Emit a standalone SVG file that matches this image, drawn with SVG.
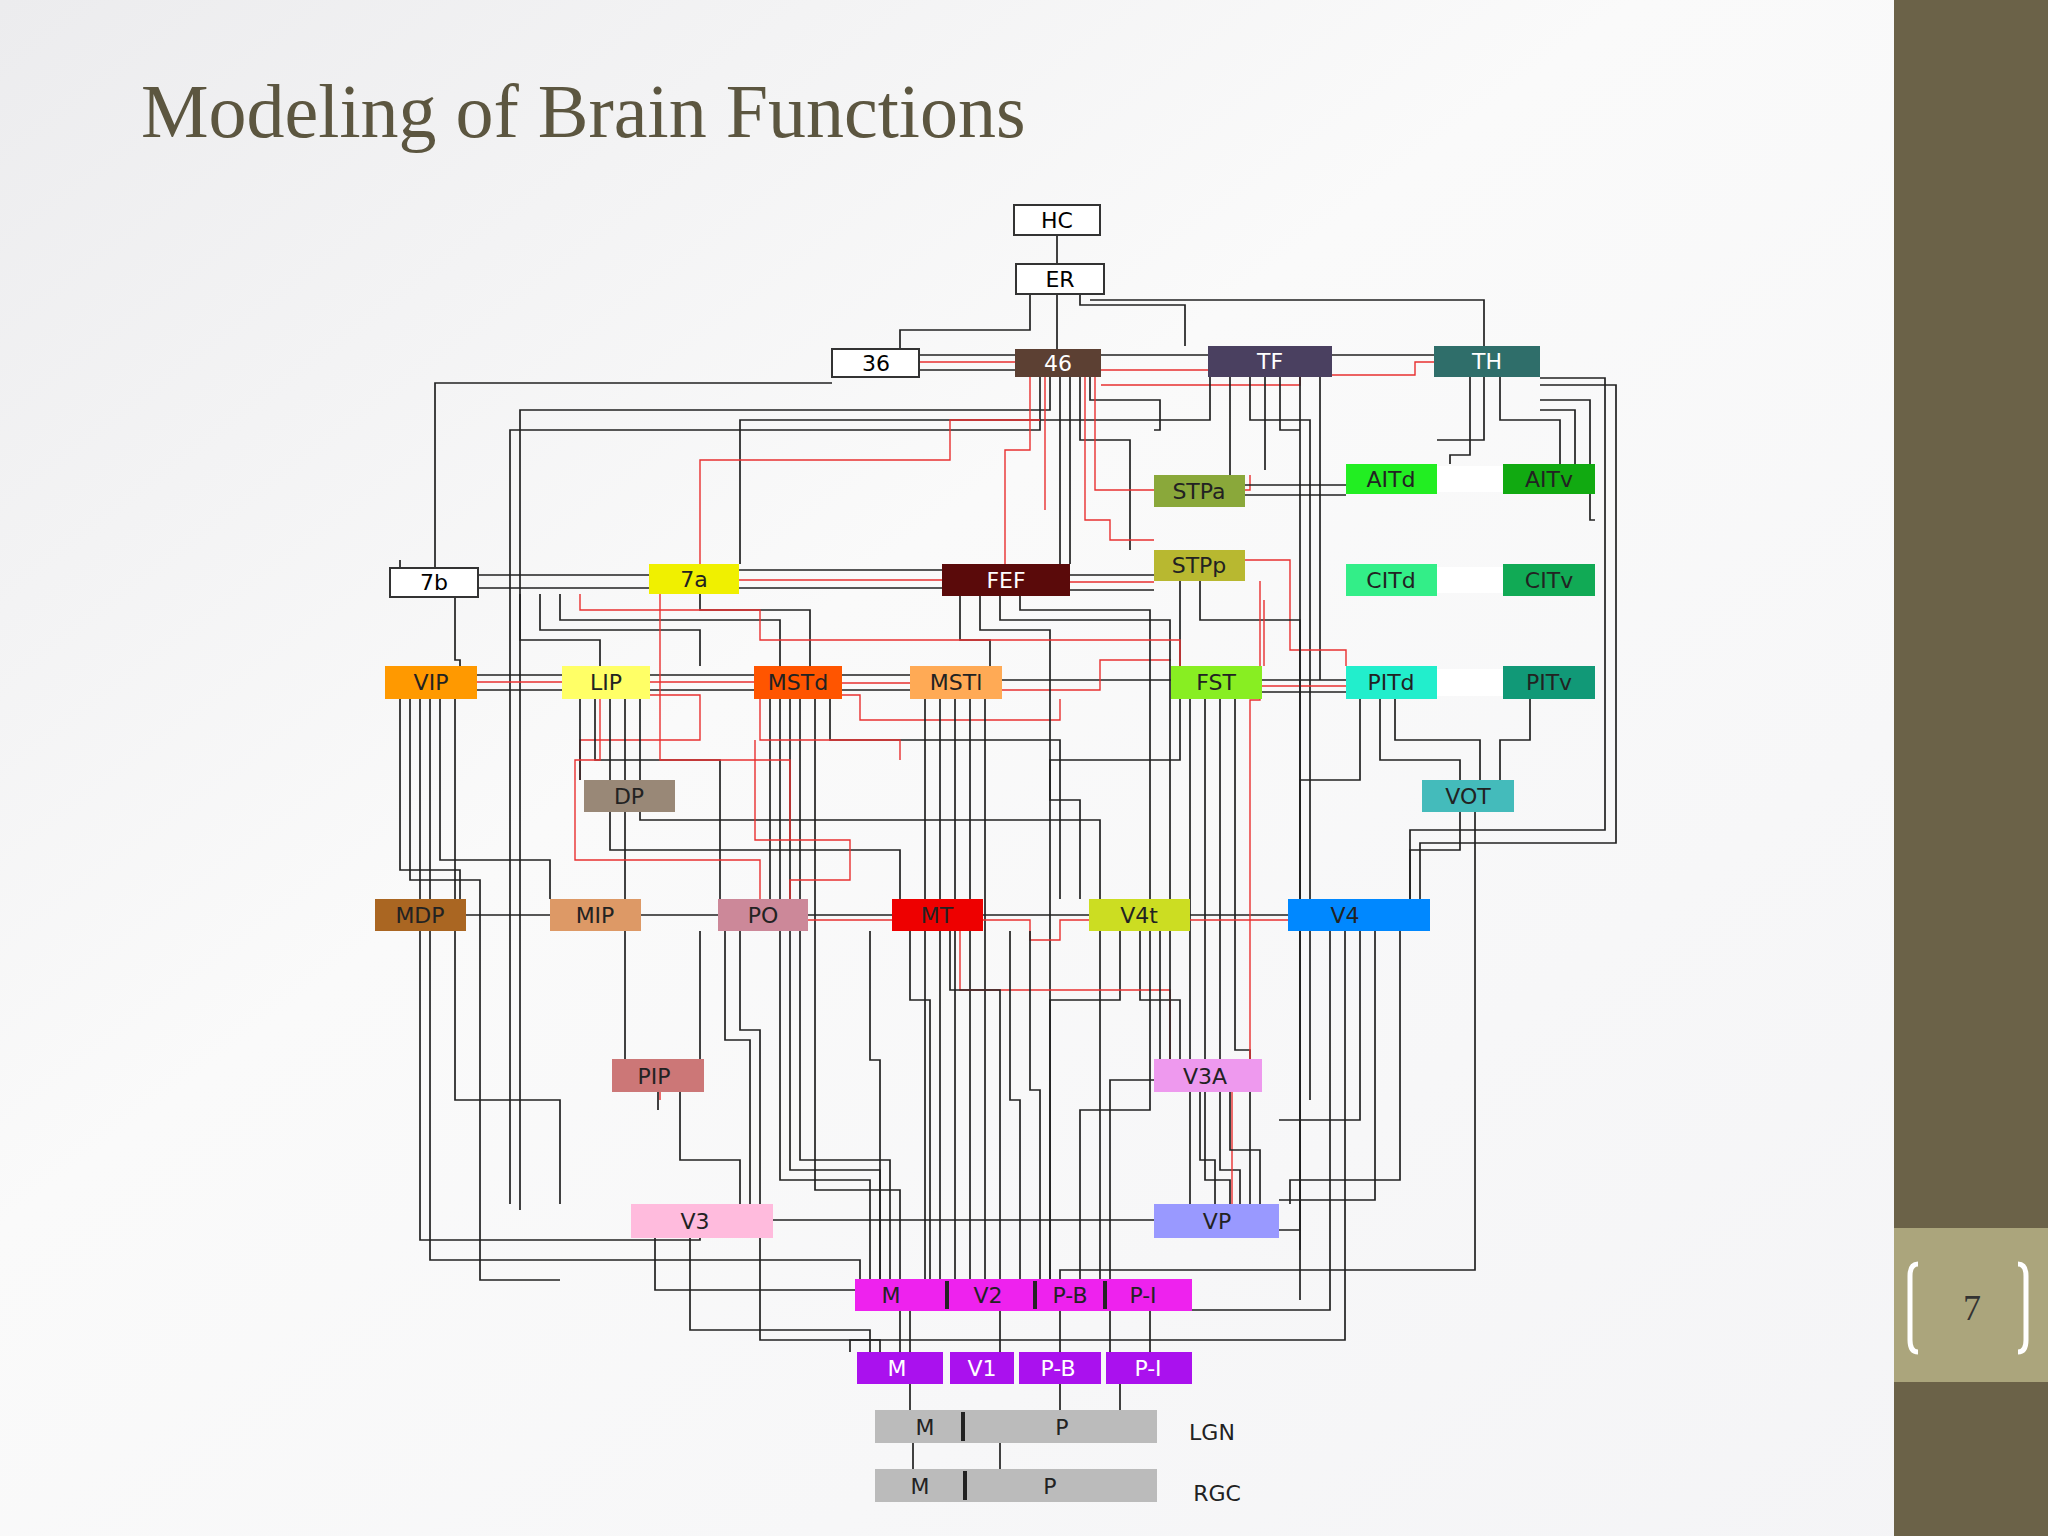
<svg xmlns="http://www.w3.org/2000/svg" width="2048" height="1536" viewBox="0 0 2048 1536">
<defs>
<linearGradient id="bg" x1="0" y1="0" x2="1" y2="1"><stop offset="0" stop-color="#ececee"/><stop offset="0.4" stop-color="#fafafa"/><stop offset="1" stop-color="#f4f4f6"/></linearGradient>
</defs>
<style>
.k{fill:none;stroke:#222;stroke-width:1.7}
.r{fill:none;stroke:#e83030;stroke-width:1.4}
.n text{font-family:"DejaVu Sans",sans-serif;font-size:22px;text-anchor:middle;dominant-baseline:central}
.n rect{stroke:none}
.w rect{fill:#fff;stroke:#333;stroke-width:2}
.lt text{fill:#fff}
.dk text{fill:#222}
</style>
<rect width="2048" height="1536" fill="url(#bg)"/>
<rect x="1894" y="0" width="154" height="1536" fill="#6b6248"/>
<rect x="1894" y="1228" width="154" height="154" fill="#aba57c"/>
<path d="M1918,1264 Q1910,1264 1910,1276 V1340 Q1910,1352 1918,1352" fill="none" stroke="#fff" stroke-width="5"/>
<path d="M2018,1264 Q2026,1264 2026,1276 V1340 Q2026,1352 2018,1352" fill="none" stroke="#fff" stroke-width="5"/>
<text x="1972" y="1320" font-family="Liberation Serif,serif" font-size="36" fill="#333" text-anchor="middle">7</text>
<text x="141" y="137" font-family="Liberation Serif,serif" font-size="76" fill="#5c5640">Modeling of Brain Functions</text>

<g id="connectors">
<path class="k" d="M1057,235V264M1057,294V349M1030,294V330H900V349M1080,294V305H1185V346M1090,300H1484V346"/>
<path class="k" d="M435,568V383H832M919,355H1015M919,370H1015M1101,355H1208M1332,355H1434M1540,385H1616V843H1420V899M1540,378H1605V830H1410V899"/>
<path class="r" d="M919,362H1015M1101,370H1208M1332,375H1415V362H1434M1101,385H1300V375"/>
<path class="k" d="M1540,400H1590V520H1595M1540,410H1575V475M1484,377V440H1437M1470,377V455H1450V464M1500,377V420H1560V464"/>
<path class="k" d="M1230,377V475M1250,377V420H1310V1100M1265,377V470M1280,377V430H1300V1300M1300,377V560M1320,377V680M1210,377V420H740V564"/>
<path class="k" d="M1040,377V430H510V1204M1050,377V410H520V1210M1060,377V564M1070,377V564M1080,377V440H1130V550M1090,377V400H1160V430H1154"/>
<path class="r" d="M1030,377V450H1005V564M1045,377V510M1085,377V520H1110V540H1154M1095,377V490H1250V475M1040,420H950V460H700V564"/>
<path class="k" d="M478,575H649M478,588H649M739,570H942M739,588H942M1070,575H1154M1070,590H1154M1245,485H1346M1245,495H1346"/>
<path class="r" d="M739,580H942M1070,582H1154M1437,474H1503V470M1437,580H1503M1437,680H1503M1245,560H1290V650H1346V666"/>
<path class="k" d="M477,675H562M477,690H562M650,675H754M650,690H754M842,675H910M842,690H910M1002,680H1171M1262,680H1346M1262,692H1346"/>
<path class="r" d="M477,682H562M650,682H754M842,683H910M1002,690H1100V660H1171M1262,686H1346M650,695H700V740H580V780M842,695H860V720H1060V699"/>
<path class="k" d="M400,699V870H460V899M410,699V880H480V1280H560M420,699V1240H700V1204M430,699V1260H860V1279M440,699V860H550V899M455,699V1100H560V1204"/>
<path class="k" d="M580,699V780M595,699V760H720V899M610,699V850H900V899M625,699V1060M640,699V820H1100V1300"/>
<path class="k" d="M770,699V900M780,699V1180H870V1279M790,699V1170H880V1279M800,699V1160H890V1279M815,699V1190H900V1352M830,699V740H1060V899"/>
<path class="k" d="M925,699V1150H925V1279M940,699V1140H940V1279M955,699V1130H955V1279M970,699V1120H970V1279M985,699V1110H985V1279"/>
<path class="r" d="M760,699V740H900V760M755,740V840H850V880H790V899M600,699V760H575V860H760V899"/>
<path class="k" d="M1190,699V1204M1205,699V1180H1230V1204M1220,699V1170H1240V1204M1235,699V1050H1250V1204M1180,699V760H1050V1279"/>
<path class="k" d="M1360,699V780H1300V1230H1279M1380,699V760H1460V780M1395,699V740H1480V780M1530,699V740H1500V780M1460,812V850H1410V899M1475,812V1270H1060V1279"/>
<path class="k" d="M1330,931V1310H1120V1279M1345,931V1340H850V1352M1360,931V1120H1279M1375,931V1200H1279M1400,931V1180H1290V1204"/>
<path class="k" d="M983,915H1089M1190,915H1288M808,915H892M641,915H718M466,915H550M1140,931V1000H1180V1059M1120,931V1000H1050V1279"/>
<path class="r" d="M808,920H892M983,920H1030V940H1060V920H1089M1190,920H1288M960,931V990H1170V1059M1232,1092V1204M660,1092V1100"/>
<path class="k" d="M1230,1092V1150H1260V1204M1200,1092V1160H1215V1204M658,1092V1110M680,1092V1160H740V1204M690,1238V1330H870V1352M655,1238V1290H855"/>
<path class="k" d="M773,1220H1154M910,1311V1352M1000,1311V1352M1060,1311V1352M1150,1311V1352M910,1384V1410M1060,1384V1410M1120,1384V1410M1000,1443V1469M913,1443V1469"/>
<path class="k" d="M700,931V1060M725,931V1040H750V1204M740,931V1030H760V1204M870,931V1060H880V1279M910,931V1000H930V1279M950,931V990H1000V1279"/>
<path class="k" d="M1010,931V1100H1020V1279M1030,931V1090H1040V1279M1150,931V1110H1080V1279M1160,931V1080H1110V1352M760,1238V1340H880V1352"/>
<path class="k" d="M400,575V560M455,597V660H460V666M520,594V640H600V666M540,594V630H700V666M560,594V620H780V666M700,594V610H810V666"/>
<path class="k" d="M960,596V640H990V666M980,596V630H1050V800H1080V899M1000,596V620H1170V1059M1020,596V610H1150V899M1180,581V666M1200,581V620H1300V1250"/>
<path class="r" d="M580,594V610H760V640H1180V666M660,594V760H790V840M1260,581V700H1250V1059M1264,666V600"/>
</g>

<g id="HC" class="n w"><rect x="1014" y="205" width="86" height="30"/><text x="1057" y="220">HC</text></g>
<g id="ER" class="n w"><rect x="1016" y="264" width="88" height="30"/><text x="1060" y="279">ER</text></g>
<g id="n36" class="n w"><rect x="832" y="349" width="87" height="28"/><text x="876" y="363">36</text></g>
<g id="n46" class="n lt"><rect x="1015" y="349" width="86" height="28" fill="#5c4033"/><text x="1058" y="363">46</text></g>
<g id="TF" class="n lt"><rect x="1208" y="346" width="124" height="31" fill="#4a4060"/><text x="1270" y="361">TF</text></g>
<g id="TH" class="n lt"><rect x="1434" y="346" width="106" height="31" fill="#2f6e6a"/><text x="1487" y="361">TH</text></g>
<g id="STPa" class="n dk"><rect x="1154" y="475" width="91" height="32" fill="#8aa83a"/><text x="1199" y="491">STPa</text></g>
<g id="AIT" class="n dk"><rect x="1437" y="466" width="66" height="26" fill="#fff" stroke="#ccc"/><rect x="1346" y="464" width="91" height="30" fill="#22ee22"/><text x="1391" y="479">AITd</text><rect x="1503" y="464" width="92" height="30" fill="#11aa11"/><text x="1549" y="479">AITv</text></g>
<g id="n7b" class="n w"><rect x="390" y="568" width="88" height="29"/><text x="434" y="582">7b</text></g>
<g id="n7a" class="n dk"><rect x="649" y="564" width="90" height="30" fill="#f0f000"/><text x="694" y="579">7a</text></g>
<g id="FEF" class="n lt"><rect x="942" y="564" width="128" height="32" fill="#5a0a0a"/><text x="1006" y="580">FEF</text></g>
<g id="STPp" class="n dk"><rect x="1154" y="550" width="91" height="31" fill="#b8b830"/><text x="1199" y="565">STPp</text></g>
<g id="CIT" class="n dk"><rect x="1437" y="567" width="66" height="26" fill="#fff" stroke="#ccc"/><rect x="1346" y="564" width="91" height="32" fill="#33ee88"/><text x="1391" y="580">CITd</text><rect x="1503" y="564" width="92" height="32" fill="#11aa55"/><text x="1549" y="580">CITv</text></g>
<g id="VIP" class="n dk"><rect x="385" y="666" width="92" height="33" fill="#ff9900"/><text x="431" y="682">VIP</text></g>
<g id="LIP" class="n dk"><rect x="562" y="666" width="88" height="33" fill="#ffff66"/><text x="606" y="682">LIP</text></g>
<g id="MSTd" class="n dk"><rect x="754" y="666" width="88" height="33" fill="#ff5500"/><text x="798" y="682">MSTd</text></g>
<g id="MSTl" class="n dk"><rect x="910" y="666" width="92" height="33" fill="#ffaa55"/><text x="956" y="682">MSTl</text></g>
<g id="FST" class="n dk"><rect x="1171" y="666" width="91" height="33" fill="#88ee22"/><text x="1216" y="682">FST</text></g>
<g id="PIT" class="n dk"><rect x="1437" y="669" width="66" height="27" fill="#fff" stroke="#ccc"/><rect x="1346" y="666" width="91" height="33" fill="#22eecc"/><text x="1391" y="682">PITd</text><rect x="1503" y="666" width="92" height="33" fill="#119977"/><text x="1549" y="682">PITv</text></g>
<g id="DP" class="n dk"><rect x="584" y="780" width="91" height="32" fill="#998877"/><text x="629" y="796">DP</text></g>
<g id="VOT" class="n dk"><rect x="1422" y="780" width="92" height="32" fill="#44bbbb"/><text x="1468" y="796">VOT</text></g>
<g id="MDP" class="n dk"><rect x="375" y="899" width="91" height="32" fill="#aa6622"/><text x="420" y="915">MDP</text></g>
<g id="MIP" class="n dk"><rect x="550" y="899" width="91" height="32" fill="#dd9966"/><text x="595" y="915">MIP</text></g>
<g id="PO" class="n dk"><rect x="718" y="899" width="90" height="32" fill="#cc8899"/><text x="763" y="915">PO</text></g>
<g id="MT" class="n dk"><rect x="892" y="899" width="91" height="32" fill="#ee0000"/><text x="937" y="915">MT</text></g>
<g id="V4t" class="n dk"><rect x="1089" y="899" width="101" height="32" fill="#ccdd22"/><text x="1139" y="915">V4t</text></g>
<g id="V4" class="n dk"><rect x="1288" y="899" width="142" height="32" fill="#0088ff"/><text x="1345" y="915">V4</text></g>
<g id="PIP" class="n dk"><rect x="612" y="1059" width="92" height="33" fill="#cc7777"/><text x="654" y="1076">PIP</text></g>
<g id="V3A" class="n dk"><rect x="1154" y="1059" width="108" height="33" fill="#ee99ee"/><text x="1205" y="1076">V3A</text></g>
<g id="V3" class="n dk"><rect x="631" y="1204" width="142" height="34" fill="#ffbbdd"/><text x="695" y="1221">V3</text></g>
<g id="VP" class="n dk"><rect x="1154" y="1204" width="125" height="34" fill="#9999ff"/><text x="1217" y="1221">VP</text></g>
<g id="V2" class="n dk"><rect x="855" y="1279" width="337" height="32" fill="#ee22ee"/><path d="M947,1281V1309M1035,1281V1309M1105,1281V1309" stroke="#222" stroke-width="4"/><text x="891" y="1295">M</text><text x="988" y="1295">V2</text><text x="1070" y="1295">P-B</text><text x="1143" y="1295">P-I</text></g>
<g id="V1" class="n lt"><rect x="857" y="1352" width="86" height="32" fill="#aa11ee"/><text x="897" y="1368">M</text><rect x="950" y="1352" width="64" height="32" fill="#aa11ee"/><text x="982" y="1368">V1</text><rect x="1019" y="1352" width="82" height="32" fill="#aa11ee"/><text x="1058" y="1368">P-B</text><rect x="1106" y="1352" width="86" height="32" fill="#aa11ee"/><text x="1148" y="1368">P-I</text></g>
<g id="LGN" class="n dk"><rect x="875" y="1410" width="282" height="33" fill="#bbbbbb"/><path d="M963,1412V1441" stroke="#222" stroke-width="4"/><text x="925" y="1427">M</text><text x="1062" y="1427">P</text><text x="1212" y="1432">LGN</text></g>
<g id="RGC" class="n dk"><rect x="875" y="1469" width="282" height="33" fill="#bbbbbb"/><path d="M965,1471V1500" stroke="#222" stroke-width="4"/><text x="920" y="1486">M</text><text x="1050" y="1486">P</text><text x="1217" y="1493">RGC</text></g>
</svg>
